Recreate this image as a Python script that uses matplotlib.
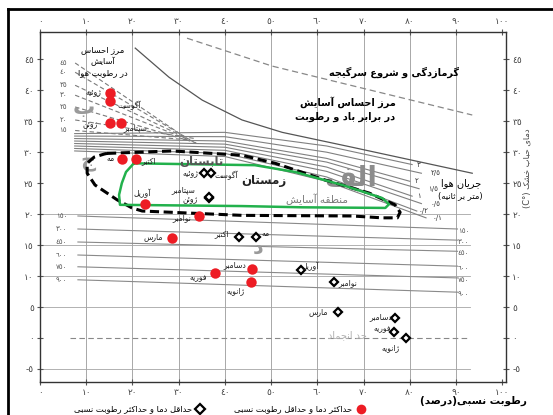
import re
import matplotlib
matplotlib.use("Agg")
import matplotlib.pyplot as plt
from matplotlib.lines import Line2D

plt.rcParams['font.family'] = ['DejaVu Sans']

# ---- Persian text helpers (matplotlib has no shaping / bidi) ----
# isolated, final, initial, medial ; None = does not join to the next letter
FORMS = {
    'ا': (0xFE8D, 0xFE8E, None, None),
    'آ': (0xFE81, 0xFE82, None, None),
    'ب': (0xFE8F, 0xFE90, 0xFE91, 0xFE92),
    'پ': (0xFB56, 0xFB57, 0xFB58, 0xFB59),
    'ت': (0xFE95, 0xFE96, 0xFE97, 0xFE98),
    'ث': (0xFE99, 0xFE9A, 0xFE9B, 0xFE9C),
    'ج': (0xFE9D, 0xFE9E, 0xFE9F, 0xFEA0),
    'چ': (0xFB7A, 0xFB7B, 0xFB7C, 0xFB7D),
    'ح': (0xFEA1, 0xFEA2, 0xFEA3, 0xFEA4),
    'خ': (0xFEA5, 0xFEA6, 0xFEA7, 0xFEA8),
    'د': (0xFEA9, 0xFEAA, None, None),
    'ذ': (0xFEAB, 0xFEAC, None, None),
    'ر': (0xFEAD, 0xFEAE, None, None),
    'ز': (0xFEAF, 0xFEB0, None, None),
    'ژ': (0xFB8A, 0xFB8B, None, None),
    'س': (0xFEB1, 0xFEB2, 0xFEB3, 0xFEB4),
    'ش': (0xFEB5, 0xFEB6, 0xFEB7, 0xFEB8),
    'ص': (0xFEB9, 0xFEBA, 0xFEBB, 0xFEBC),
    'ط': (0xFEC1, 0xFEC2, 0xFEC3, 0xFEC4),
    'ع': (0xFEC9, 0xFECA, 0xFECB, 0xFECC),
    'غ': (0xFECD, 0xFECE, 0xFECF, 0xFED0),
    'ف': (0xFED1, 0xFED2, 0xFED3, 0xFED4),
    'ق': (0xFED5, 0xFED6, 0xFED7, 0xFED8),
    'ک': (0xFB8E, 0xFB8F, 0xFB90, 0xFB91),
    'گ': (0xFB92, 0xFB93, 0xFB94, 0xFB95),
    'ل': (0xFEDD, 0xFEDE, 0xFEDF, 0xFEE0),
    'م': (0xFEE1, 0xFEE2, 0xFEE3, 0xFEE4),
    'ن': (0xFEE5, 0xFEE6, 0xFEE7, 0xFEE8),
    'و': (0xFEED, 0xFEEE, None, None),
    'ه': (0xFEE9, 0xFEEA, 0xFEEB, 0xFEEC),
    'ی': (0xFBFC, 0xFBFD, 0xFBFE, 0xFBFF),
    'ئ': (0xFE89, 0xFE8A, 0xFE8B, 0xFE8C),
}


def fa(text):
    chars = list(text)
    out = []
    for i, c in enumerate(chars):
        f = FORMS.get(c)
        if f is None:
            out.append(c)
            continue
        prev = chars[i - 1] if i > 0 else ''
        nxt = chars[i + 1] if i + 1 < len(chars) else ''
        join_prev = prev in FORMS and FORMS[prev][2] is not None
        join_next = f[2] is not None and nxt in FORMS
        if join_prev and join_next:
            out.append(chr(f[3]))
        elif join_prev:
            out.append(chr(f[1]))
        elif join_next:
            out.append(chr(f[2]))
        else:
            out.append(chr(f[0]))
    s = ''.join(out)
    # latin / digit runs stay left-to-right
    s = re.sub(r'[A-Za-z0-9°٠-٩/]+', lambda m: m.group(0)[::-1], s)
    s = s[::-1]
    return s.translate(str.maketrans('()', ')('))


DIGITS = str.maketrans('0123456789', '٠١٢٣٤٥٦٧٨٩')


def fa_num(v):
    return str(v).translate(DIGITS)


# ---- data ----
months = ['ژانویه', 'فوریه', 'مارس', 'آوریل', 'مه', 'ژوئن',
          'ژوئیه', 'آگوست', 'سپتامبر', 'اکتبر', 'نوامبر', 'دسامبر']

# max temperature & min relative humidity
max_t_rh = [45.7, 37.9, 28.6, 22.7, 17.7, 15.2, 15.2, 15.2, 17.5, 20.8, 34.4, 45.9]
max_t = [9.0, 10.5, 16.1, 21.6, 28.9, 34.7, 39.5, 38.2, 34.7, 28.9, 19.7, 11.1]
max_label_pos = [(42.2, 7.7), (34.2, 9.7), (24.5, 16.3), (22.1, 23.4), (15.2, 28.9),
                 (10.8, 34.4), (11.6, 39.6), (19.3, 37.6), (20.6, 33.9), (23.6, 28.7),
                 (30.7, 19.5), (42.2, 11.8)]

# min temperature & max relative humidity
min_t_rh = [79.2, 76.6, 64.5, 56.5, 46.8, 36.6, 35.5, 37.0, 36.6, 43.1, 63.6, 76.8]
min_t = [0.0, 1.0, 4.2, 11.0, 16.3, 22.6, 26.6, 26.6, 22.7, 16.3, 9.0, 3.2]
min_label_pos = [(75.8, -1.6), (74.0, 1.5), (60.2, 4.2), (58.4, 11.6), (48.7, 16.9),
                 (32.5, 22.4), (32.5, 26.6), (40.3, 26.2), (31.0, 23.9), (39.4, 16.9),
                 (66.5, 9.0), (73.6, 3.4)]

# summer comfort zone outline (dashed)
summer_rh = [14.5, 28.6, 43.7, 50.9, 61.7, 71.2, 76.8, 77.9, 77.3, 74.0, 67.5, 43.7,
             22.1, 19.9, 16.7, 11.9, 10.2, 10.2, 11.7, 13.9, 14.5]
summer_t = [29.8, 30.2, 29.5, 28.2, 25.5, 23.4, 21.5, 20.3, 19.4, 19.4, 19.7, 19.8,
            20.5, 21.0, 22.3, 24.7, 26.6, 28.2, 29.2, 29.7, 29.8]

# winter comfort zone outline (green)
winter_rh = [20.3, 46.5, 55.2, 65.4, 74.0, 75.5, 74.7, 56.7, 43.7, 17.3, 17.1, 17.7, 18.6, 20.3]
winter_t = [28.2, 27.9, 26.8, 24.7, 22.6, 21.6, 21.0, 21.1, 21.3, 21.5, 23.1, 25.0, 26.8, 28.2]

# air movement lines (m/s)
wind_labels = ['٣', '٢/٥', '٢', '١/٥', '١', '٠/٥', '٠/٢', '٠/١']
wind_rh = [7.5, 40.0, 62.0]
wind_t = [[33.0, 33.2, 31.0], [32.6, 32.5, 30.0], [32.2, 31.8, 29.0], [31.8, 31.3, 28.4],
          [31.4, 30.8, 27.6], [31.0, 30.3, 26.9], [30.6, 29.8, 26.0], [30.2, 29.3, 25.3]]
wind_end = [(80.5, 28.0), (82.5, 26.6), (80.0, 25.3), (82.0, 24.1),
            (80.5, 22.9), (82.5, 21.7), (81.5, 20.5), (83.5, 19.4)]
wind_label_pos = [(82.0, 28.0), (85.5, 26.7), (81.5, 25.4), (85.0, 24.1),
                  (82.0, 22.9), (85.5, 21.7), (83.0, 20.5), (86.0, 19.3)]

# solar radiation lines
rad_values = [150, 300, 450, 600, 750, 900]
rad_left_t = [19.7, 17.6, 15.5, 13.4, 11.5, 9.4]
rad_right_t = [17.6, 15.8, 14.0, 11.6, 9.7, 7.4]

# vapour pressure lines (upper left)
vap_values = [45, 40, 35, 30, 25, 20, 15]
vap_start_t = [44.4, 42.9, 40.8, 39.2, 37.3, 35.2, 33.5]
vap_end = [(31.0, 32.6), (31.8, 32.3), (32.5, 32.0), (33.2, 31.7),
           (33.8, 31.5), (33.5, 32.2), (32.0, 32.0)]

# upper comfort limit with wind/humidity, and heat-stroke limit
limit_rh = [20.6, 27.9, 35.1, 43.7, 52.4, 67.5, 93.5]
limit_t = [46.8, 42.1, 38.4, 35.2, 33.2, 30.8, 26.6]
heat_rh = [31.8, 50.2, 93.5]
heat_t = [48.4, 43.9, 36.0]

# ---- figure ----
fig = plt.figure(figsize=(5.53, 4.15), dpi=100)
ax = fig.add_axes([40 / 553, 33 / 415, 466 / 553, 350 / 415])
ax.set_xlim(0, 100.8)
ax.set_ylim(-7.1, 49.4)

xt = list(range(0, 101, 10))
yt = list(range(-5, 46, 5))
ax.set_xticks(xt)
ax.set_xticklabels([fa_num(v) for v in xt])
ax.set_yticks(yt)
ax.set_yticklabels([fa_num(v) for v in yt])
ax.tick_params(top=True, labeltop=True, right=True, labelright=True,
               direction='inout', length=5, width=0.8, pad=2,
               labelsize=6.5, labelcolor='#444444', color='#555555')
for sp in ax.spines.values():
    sp.set_linewidth(1.0)
    sp.set_color('#333333')

# grid
for v in range(10, 100, 10):
    ax.axvline(v, color='#9a9a9a', lw=0.6, zorder=0)
for v in [-5, 5, 10, 15, 20]:
    ax.plot([0, 93], [v, v], color='#a5a5a5', lw=0.6, zorder=0)
ax.plot([6.5, 93], [0, 0], color='#888888', lw=0.8, ls=(0, (5, 3)), zorder=1)
ax.text(66.4, 0.4, fa('حد انجماد'), color='#b0b0b0', fontsize=7, ha='center', va='center')

# radiation lines
for v, t0, t1 in zip(rad_values, rad_left_t, rad_right_t):
    ax.plot([8.2, 90.3], [t0, t1], color='#8a8a8a', lw=0.8, zorder=1)
    ax.text(4.6, t0, fa_num(v), fontsize=5, color='#555555', ha='center', va='center')
    ax.text(91.6, t1 - 0.3, fa_num(v), fontsize=5, color='#555555', ha='center', va='center')

# vapour pressure lines
for v, t0, end in zip(vap_values, vap_start_t, vap_end):
    ax.plot([7.6, end[0]], [t0, end[1]], color='#7a7a7a', lw=0.8, ls=(0, (4, 2.5)), zorder=1)
    ax.text(5.0, t0, fa_num(v), fontsize=5, color='#555555', ha='center', va='center')

# wind lines
for ts, end, lab, pos in zip(wind_t, wind_end, wind_labels, wind_label_pos):
    ax.plot(wind_rh + [end[0]], ts + [end[1]], color='#808080', lw=0.8, zorder=1)
    ax.text(pos[0], pos[1], lab, fontsize=5, color='#333333', ha='center', va='center')

ax.plot(limit_rh, limit_t, color='#555555', lw=0.9, zorder=1)
ax.plot(heat_rh, heat_t, color='#888888', lw=0.9, ls=(0, (5, 3)), zorder=1)

# comfort zones
ax.plot(summer_rh, summer_t, color='black', lw=2.2, ls=(0, (3, 1.5)), zorder=3)
ax.plot(winter_rh, winter_t, color='#22b14c', lw=1.8, zorder=3)

# monthly points
ax.plot(max_t_rh, max_t, 'o', ms=7.5, color='#ed1c24', mec='none', zorder=5)
ax.plot(min_t_rh, min_t, 'D', ms=4.5, mfc='white', mec='black', mew=1.6, zorder=5)
for m, (lx, ly) in zip(months, max_label_pos):
    ax.text(lx, ly, fa(m), fontsize=5.5, color='#222222', ha='center', va='center', zorder=6)
for m, (lx, ly) in zip(months, min_label_pos):
    ax.text(lx, ly, fa(m), fontsize=5.5, color='#222222', ha='center', va='center', zorder=6)

# big zone letters
ax.text(67.1, 25.8, fa('الف'), fontsize=20, fontweight='bold', color='#8c8c8c', ha='center', va='center', zorder=2)
ax.text(9.5, 37.2, fa('ب'), fontsize=16, fontweight='bold', color='#9a9a9a', ha='center', va='center', zorder=2)
ax.text(10.4, 28.4, fa('ج'), fontsize=15, fontweight='bold', color='#9a9a9a', ha='center', va='center', zorder=2)
ax.text(47.2, 14.5, fa('د'), fontsize=15, fontweight='bold', color='#9a9a9a', ha='center', va='center', zorder=2)

# annotations
ax.text(76.5, 42.9, fa('گرمازدگی و شروع سرگیجه'), fontsize=7, fontweight='bold', ha='center', va='center')
ax.text(66.5, 38.1, fa('مرز احساس آسایش'), fontsize=7, fontweight='bold', ha='center', va='center')
ax.text(66.0, 35.7, fa('در برابر باد و رطوبت'), fontsize=7, fontweight='bold', ha='center', va='center')
ax.text(13.5, 46.5, fa('مرز احساس'), fontsize=6, ha='center', va='center')
ax.text(13.5, 44.6, fa('آسایش'), fontsize=6, ha='center', va='center')
ax.text(13.5, 42.9, fa('در رطوبت هوا'), fontsize=6, ha='center', va='center')
ax.text(91.0, 25.0, fa('جریان هوا'), fontsize=7, ha='center', va='center')
ax.text(91.0, 23.0, fa('(متر بر ثانیه)'), fontsize=6, ha='center', va='center')
ax.text(60.0, 22.4, fa('منطقه آسایش'), fontsize=7.5, color='#7a7a7a', ha='center', va='center', zorder=6)
ax.text(35.0, 28.5, fa('تابستان'), fontsize=8.5, fontweight='bold', color='#555555', ha='center', va='center', zorder=6)
ax.text(48.5, 25.5, fa('زمستان'), fontsize=8.5, fontweight='bold', color='#222222', ha='center', va='center', zorder=6)

# right axis title
fig.text(527 / 553, 1 - 168 / 415, fa('دمای حباب خشک (C°)'), rotation=90,
         fontsize=6, color='#444444', ha='center', va='center')
# x axis title
fig.text(473 / 553, 1 - 401 / 415, fa('رطوبت نسبی(درصد)'), fontsize=7.5,
         fontweight='bold', ha='center', va='center')

# legend
fig.text(352 / 553, 1 - 409 / 415, fa('حداکثر دما و حداقل رطوبت نسبی'), fontsize=6,
         ha='right', va='center')
fig.add_artist(Line2D([361 / 553], [1 - 409 / 415], marker='o', ms=7, color='#ed1c24', mec='none'))
fig.text(192 / 553, 1 - 409 / 415, fa('حداقل دما و حداکثر رطوبت نسبی'), fontsize=6,
         ha='right', va='center')
fig.add_artist(Line2D([200 / 553], [1 - 409 / 415], marker='D', ms=5, mfc='white', mec='black', mew=1.6))

# scan frame
fig.add_artist(Line2D([8 / 553, 8 / 553], [0, 1 - 9 / 415], color='black', lw=2))
fig.add_artist(Line2D([8 / 553, 1], [1 - 9 / 415, 1 - 9 / 415], color='black', lw=2))

fig.savefig('out.png', dpi=100)
